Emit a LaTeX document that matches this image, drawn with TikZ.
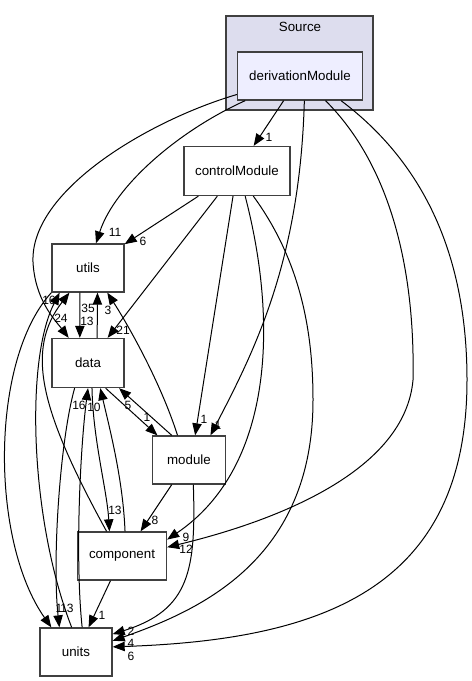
\documentclass[tikz,border=0pt]{standalone}
\usepackage{fontspec}
\setmainfont{Liberation Sans}
\usetikzlibrary{arrows.meta}
\definecolor{boxline}{HTML}{404040}
\definecolor{clusterfill}{HTML}{DDDDEE}
\definecolor{dirfill}{HTML}{EEEEFF}
\tikzset{
  dirbox/.style={draw=boxline,line width=1pt,fill=white,inner sep=0pt,minimum height=36pt,font=\fontsize{10}{12}\selectfont},
  cnt/.style={inner sep=0pt,font=\fontsize{9}{10}\selectfont},
  dep/.style={-{Triangle[length=9pt,width=7pt]},line width=0.75pt}
}
\begin{document}
\begin{tikzpicture}[x=0.75pt,y=-0.75pt]
\useasboundingbox (0,0) rectangle (471,681);
% cluster and directories
\node[draw=boxline,line width=1pt,fill=clusterfill,minimum width=110.25pt,minimum height=70.5pt] (src) at (299.5,63) {};
\node[font=\fontsize{10}{12}\selectfont,inner sep=0pt] (srclbl) at (300,27) {Source};
\node[dirbox,fill=dirfill,minimum width=93.75pt] (dm) at (300,76) {derivationModule};
\node[dirbox,minimum width=79.5pt,minimum height=36.75pt] (cm) at (237,171) {controlModule};
\node[dirbox,minimum width=54pt] (ut) at (88,268) {utils};
\node[dirbox,minimum width=54pt,minimum height=36.75pt] (da) at (88,363) {data};
\node[dirbox,minimum width=54.75pt] (mo) at (189,460) {module};
\node[dirbox,minimum width=66.75pt] (co) at (122,556) {component};
\node[dirbox,minimum width=54pt] (un) at (76,652) {units};
% from derivationModule
\draw[dep] (dm) -- (cm);
\draw[dep] (dm) .. controls (180,130) and (115,185) .. (ut);
\draw[dep] (dm) .. controls (150,120) and (30,190) .. (33,262) .. controls (35,300) and (55,320) .. (da);
\draw[dep] (dm.280) .. controls (300,260) and (255,350) .. (mo.49);
\draw[dep] (dm.316) .. controls (395,170) and (415,280) .. (413,380) .. controls (405,470) and (280,520) .. (co.11);
\draw[dep] (dm.329) .. controls (420,160) and (467,250) .. (467,380) .. controls (467,590) and (320,640) .. (un.8);
% from controlModule
\draw[dep] (cm) -- (ut);
\draw[dep] (cm.232) -- (da.52);
\draw[dep] (cm.261) -- (mo.76);
\draw[dep] (cm.288) .. controls (280,330) and (270,470) .. (co.20);
\draw[dep] (cm.303) .. controls (300,260) and (313,330) .. (313,400) .. controls (313,560) and (200,610) .. (un.17);
% from module
\draw[dep] (mo.115) .. controls (160,380) and (125,320) .. (ut.308);
\draw[dep] (mo.125) -- (da.321);
\draw[dep] (mo.235) -- (co.53);
\draw[dep] (mo.280) .. controls (196,570) and (190,610) .. (un.26);
% from data
\draw[dep] (da.70) -- (ut.291);
\draw[dep] (ut.252) -- (da.108);
\draw[dep] (da.305) -- (mo.142);
\draw[dep] (da.279) .. controls (93,440) and (107,490) .. (co.117);
\draw[dep] (da.242) .. controls (60,440) and (52,560) .. (un.124);
% from component, units, utils
\draw[dep] (co.83) .. controls (123,480) and (110,430) .. (da.296);
\draw[dep] (co.245) -- (un.63);
\draw[dep] (co.122) .. controls (40,410) and (25,350) .. (ut.233);
\draw[dep] (un.76) .. controls (75,560) and (80,450) .. (da.south);
\draw[dep] (un.100) .. controls (30,520) and (25,360) .. (ut.221);
\draw[dep] (ut.south west) .. controls (-10,360) and (-10,540) .. (un.135);
% counts
\node[cnt] (ldmcm) at (269,137) {1};
\node[cnt] (ldmut) at (115,232) {11};
\node[cnt] (ldmda) at (61,318) {24};
\node[cnt] (lcmut) at (143,241) {6};
\node[cnt] (lcmda) at (123,330) {21};
\node[cnt] (ldaut) at (88,308) {35};
\node[cnt] (lutda) at (87,321) {13};
\node[cnt] (lmout) at (108,310) {3};
\node[cnt] (lcout) at (49,300) {16};
\node[cnt] (ldamo) at (147,417) {1};
\node[cnt] (lmoda) at (128,405) {5};
\node[cnt] (lcmmo) at (204,419) {1};
\node[cnt] (ldmmo) at (218,425) {1};
\node[cnt] (lunda) at (79,405) {16};
\node[cnt] (lcoda) at (94,407) {10};
\node[cnt] (ldaco) at (115,510) {13};
\node[cnt] (lmoco) at (155,520) {8};
\node[cnt] (lcmco) at (186,537) {9};
\node[cnt] (ldmco) at (186,549) {12};
\node[cnt] (lcoun) at (102,615) {1};
\node[cnt] (lutun) at (59,608) {1};
\node[cnt] (ldaun) at (67,608) {13};
\node[cnt] (lmoun) at (131,631) {2};
\node[cnt] (lcmun) at (131,643) {4};
\node[cnt] (ldmun) at (131,656) {6};
\end{tikzpicture}
\end{document}
